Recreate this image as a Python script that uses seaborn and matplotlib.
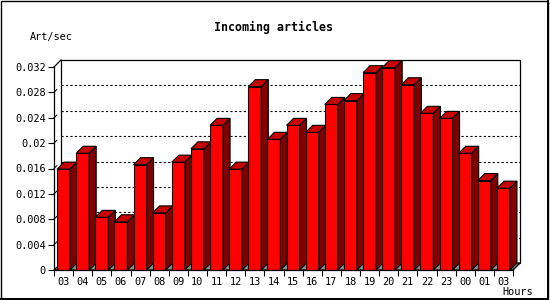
import numpy as np
import pandas as pd
import seaborn as sns
import matplotlib
matplotlib.use("Agg")
import matplotlib.pyplot as plt
from matplotlib.patches import Polygon, Rectangle
from matplotlib.lines import Line2D

# ---- data ----
hours = ["03", "04", "05", "06", "07", "08", "09", "10", "11", "12", "13", "14",
         "15", "16", "17", "18", "19", "20", "21", "22", "23", "00", "01", "03"]
rates = [0.0159, 0.0184, 0.0083, 0.0076, 0.0166, 0.0090, 0.0170, 0.0191,
         0.0228, 0.0159, 0.0289, 0.0206, 0.0228, 0.0217, 0.0261, 0.0267,
         0.0311, 0.0319, 0.0292, 0.0247, 0.0239, 0.0184, 0.0141, 0.0129]
yticks = [0, 0.004, 0.008, 0.012, 0.016, 0.02, 0.024, 0.028, 0.032]
ytick_labels = ["0", "0.004", "0.008", "0.012", "0.016", "0.02", "0.024", "0.028", "0.032"]

FONT = "DejaVu Sans Mono"
plt.rcParams["font.family"] = [FONT]

df = pd.DataFrame({"slot": np.arange(len(rates)), "rate": rates})

fig = plt.figure(figsize=(5.5, 3), dpi=100)
fig.patch.set_facecolor("white")
ax = fig.add_axes([54 / 550, 30 / 300, 459 / 550, 203 / 300])
ax.set_facecolor("none")

sns.barplot(data=df, x="slot", y="rate", color="#ff0000", saturation=1,
            width=0.68, edgecolor="black", linewidth=0.8, ax=ax, errorbar=None)

n = len(rates)
ax.set_xlim(-0.5, n - 0.5)
ax.set_ylim(0, 0.032)
# 3D depth in data units (7 px)
dx = 7 / 459 * n
dy = 7 / 203 * 0.032

# back panel
ax.add_patch(Rectangle((-0.5 + dx, dy), n, 0.032, facecolor="white", edgecolor="black",
                       linewidth=0.9, clip_on=False, zorder=0.5))
# gridlines on back panel
for v in yticks[1:-1]:
    ax.add_line(Line2D([-0.5 + dx, n - 0.5 + dx], [v + dy, v + dy], color="black",
                       linewidth=0.8, linestyle=(0, (2, 2)), clip_on=False, zorder=0.8))
    ax.add_line(Line2D([-0.5, -0.5 + dx * 0.4], [v, v + dy * 0.4], color="black",
                       linewidth=0.7, clip_on=False, zorder=0.8))
# left wall top diagonal
ax.add_line(Line2D([-0.5, -0.5 + dx], [0.032, 0.032 + dy], color="black",
                   linewidth=0.9, clip_on=False, zorder=0.8))
# floor
ax.add_patch(Polygon([(-0.5, 0), (n - 0.5, 0), (n - 0.5 + dx, dy), (-0.5 + dx, dy)],
                     closed=True, facecolor="#8c8c8c", edgecolor="black", linewidth=0.8,
                     clip_on=False, zorder=1))

bars = [p for p in ax.patches if isinstance(p, Rectangle) and p.get_height() > 0
        and p.get_facecolor()[0] > 0.9 and p.get_facecolor()[1] < 0.1]
for i, p in enumerate(sorted(bars, key=lambda b: b.get_x())):
    z = 3 + i * 0.01
    p.set_zorder(z)
    x0, w, h = p.get_x(), p.get_width(), p.get_height()
    ax.add_patch(Polygon([(x0 + w, 0), (x0 + w + dx, dy), (x0 + w + dx, h + dy), (x0 + w, h)],
                         closed=True, facecolor="#800000", edgecolor="black", linewidth=0.8,
                         clip_on=False, zorder=z))
    ax.add_patch(Polygon([(x0, h), (x0 + w, h), (x0 + w + dx, h + dy), (x0 + dx, h + dy)],
                         closed=True, facecolor="#c80000", edgecolor="black", linewidth=0.8,
                         clip_on=False, zorder=z))

# axes styling
for s in ["top", "right"]:
    ax.spines[s].set_visible(False)
for s in ["left", "bottom"]:
    ax.spines[s].set_linewidth(0.9)
    ax.spines[s].set_zorder(10)
ax.set_yticks(yticks, ytick_labels)
ax.set_xticks(np.arange(n), hours)
ax.set_xticks(np.arange(n + 1) - 0.5, minor=True)
ax.tick_params(axis="x", which="major", length=0, pad=5, labelsize=7.4)
ax.tick_params(axis="x", which="minor", length=4, width=0.8)
ax.tick_params(axis="y", length=4, width=0.8, pad=2, labelsize=7.4)
ax.set_xlabel("")
ax.set_ylabel("")

# bottom-right diagonal of floor edge
ax.add_line(Line2D([n - 0.5, n - 0.5 + dx], [0, dy], color="black", linewidth=0.8,
                   clip_on=False, zorder=11))

fig.text(274 / 550, 1 - 27 / 300, "Incoming articles", ha="center", va="center",
         fontsize=8.4, fontweight="bold", family=FONT)
fig.text(30 / 550, 1 - 37 / 300, "Art/sec", ha="left", va="center", fontsize=7.4, family=FONT)
fig.text(533 / 550, 1 - 292 / 300, "Hours", ha="right", va="center", fontsize=7.4, family=FONT)

# outer frame: thin top/left, slightly heavier right/bottom
fig.patches.append(Rectangle((0.001, 0.003), 0.996, 0.995, transform=fig.transFigure,
                             fill=False, edgecolor="black", linewidth=1.0))
fig.lines.append(Line2D([0.997, 0.997], [0.003, 0.998], transform=fig.transFigure,
                        color="black", linewidth=1.4))
fig.lines.append(Line2D([0.001, 0.997], [0.004, 0.004], transform=fig.transFigure,
                        color="black", linewidth=1.4))

fig.savefig("out.png", dpi=100)
